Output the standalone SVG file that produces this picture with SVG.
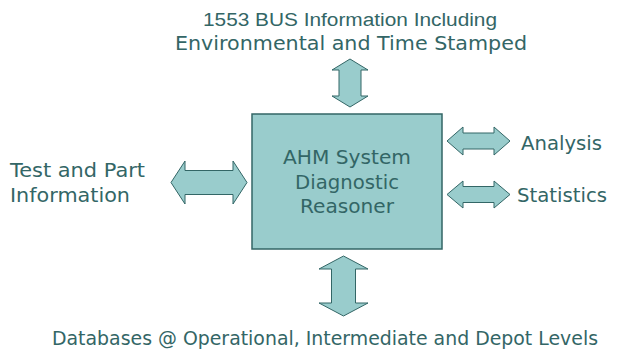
<svg xmlns="http://www.w3.org/2000/svg" width="618" height="352" viewBox="0 0 618 352">
<style>
.t{font-family:"DejaVu Sans",Verdana,sans-serif;font-size:19px;fill:#336666}
.a{font-family:"Liberation Sans",Arial,sans-serif;font-size:18px;fill:#336666}
.arr{fill:#99CCCC;stroke:#336666;stroke-width:1}
.box{fill:#99CCCC;stroke:#336666;stroke-width:1.5}
</style>
<rect width="618" height="352" fill="#ffffff"/>
<g id="reasoner">
<rect class="box" x="252" y="114" width="190" height="135"/>
<text class="t" x="347" y="164" text-anchor="middle" textLength="128" lengthAdjust="spacingAndGlyphs">AHM System</text>
<text class="t" x="347" y="189" text-anchor="middle" textLength="104" lengthAdjust="spacingAndGlyphs">Diagnostic</text>
<text class="t" x="347" y="213" text-anchor="middle" textLength="94" lengthAdjust="spacingAndGlyphs">Reasoner</text>
</g>
<g id="bus">
<text class="a" x="350" y="26" text-anchor="middle" textLength="294" lengthAdjust="spacingAndGlyphs">1553 BUS Information Including</text>
<text class="t" x="351" y="50" text-anchor="middle" textLength="352" lengthAdjust="spacingAndGlyphs">Environmental and Time Stamped</text>
</g>
<g id="test">
<text class="t" x="10" y="177" textLength="135" lengthAdjust="spacingAndGlyphs">Test and Part</text>
<text class="t" x="10" y="202" textLength="120" lengthAdjust="spacingAndGlyphs">Information</text>
</g>
<g id="analysis"><text class="t" x="521" y="150" textLength="81" lengthAdjust="spacingAndGlyphs">Analysis</text></g>
<g id="statistics"><text class="t" x="517" y="202" textLength="90" lengthAdjust="spacingAndGlyphs">Statistics</text></g>
<g id="databases"><text class="t" x="325" y="345" text-anchor="middle" textLength="546" lengthAdjust="spacingAndGlyphs">Databases @ Operational, Intermediate and Depot Levels</text></g>
<g id="connectors">
<polygon class="arr" points="350,59 368,70 361,70 361,96 368,96 350,107 332,96 339,96 339,70 332,70"/>
<polygon class="arr" points="343.5,256 368,269 355.5,269 355.5,303 368,303 343.5,316 319,303 331.5,303 331.5,269 319,269"/>
<polygon class="arr" points="171,182.5 185,161 185,170.5 233,170.5 233,161 247,182.5 233,204 233,194.5 185,194.5 185,204"/>
<polygon class="arr" points="447,141 463,127 463,133 494,133 494,127 510,141 494,155 494,149 463,149 463,155"/>
<polygon class="arr" points="447,194.5 463,181 463,186.5 494,186.5 494,181 510,194.5 494,208 494,202.5 463,202.5 463,208"/>
</g>
</svg>
